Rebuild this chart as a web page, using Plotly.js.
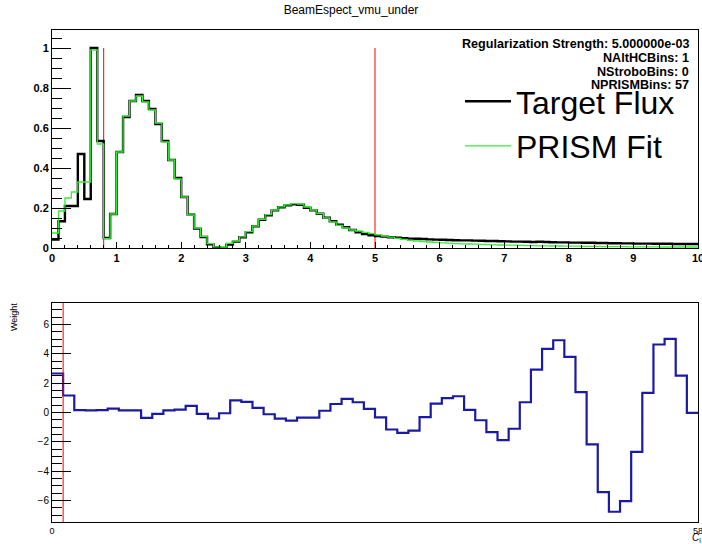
<!DOCTYPE html>
<html>
<head>
<meta charset="utf-8">
<script src="https://cdn.plot.ly/plotly-3.0.1.min.js"></script>
<style>html,body{margin:0;padding:0;background:#fff;}#chart{width:702px;height:544px;}</style>
</head>
<body>
<div id="chart"></div>
<script>
// ---- data ----
var binWidth = 0.1;
var targetFlux = [
0.042,0.134,0.21,0.21,0.47,0.245,1.0,0.535,0.05,0.17,
0.48,0.655,0.735,0.765,0.735,0.695,0.62,0.535,0.44,0.35,
0.255,0.167,0.097,0.055,0.018,0.004,0.0,0.017,0.032,0.054,
0.079,0.109,0.141,0.164,0.188,0.204,0.213,0.218,0.216,0.201,
0.188,0.171,0.151,0.134,0.117,0.104,0.09,0.079,0.07,0.064,
0.06,0.057,0.054,0.051,0.049,0.047,0.046,0.045,0.043,0.042,
0.041,0.040,0.039,0.038,0.038,0.037,0.036,0.035,0.035,0.034,
0.033,0.032,0.032,0.031,0.030,0.031,0.030,0.029,0.028,0.028,
0.027,0.027,0.026,0.026,0.025,0.025,0.024,0.024,0.023,0.023,
0.022,0.022,0.022,0.021,0.021,0.021,0.020,0.020,0.020,0.020];
var prismFit = [
0.075,0.185,0.25,0.28,0.33,0.33,0.99,0.52,0.047,0.17,
0.48,0.66,0.735,0.76,0.73,0.69,0.625,0.53,0.44,0.345,
0.255,0.165,0.1,0.058,0.022,0.006,0.004,0.023,0.035,0.056,
0.082,0.11,0.143,0.167,0.19,0.206,0.216,0.222,0.22,0.205,
0.19,0.172,0.15,0.13,0.113,0.1,0.09,0.085,0.078,0.072,
0.066,0.06,0.054,0.048,0.043,0.038,0.035,0.032,0.030,0.028,
0.026,0.024,0.022,0.021,0.020,0.019,0.018,0.017,0.016,0.015,
0.014,0.014,0.013,0.012,0.012,0.011,0.011,0.010,0.010,0.009,
0.009,0.009,0.008,0.008,0.008,0.007,0.007,0.007,0.007,0.006,
0.006,0.006,0.006,0.006,0.005,0.005,0.005,0.005,0.005,0.005];
var weights = [
2.66,1.16,0.16,0.14,0.16,0.27,0.14,0.14,-0.36,-0.09,
0.14,0.2,0.45,-0.09,-0.41,-0.05,0.83,0.73,0.32,-0.12,
-0.42,-0.56,-0.35,-0.35,0.12,0.58,0.93,0.7,0.25,-0.33,
-1.16,-1.39,-1.23,-0.32,0.61,0.98,1.11,0.18,-0.53,-1.34,
-1.89,-1.11,0.70,2.93,4.34,4.93,3.8,1.39,-2.18,-5.43,
-6.77,-6.04,-2.68,1.34,4.64,5.02,2.52,-0.02];
var energyCuts = [0.8, 5];
var weightCut = [1];
var infoLines = ["Regularization Strength: 5.000000e-03","NAltHCBins: 1","NStroboBins: 0","NPRISMBins: 57"];
var seriesNames = ["Target Flux","PRISM Fit"];

// ---- helpers ----
function stepEdges(vals, w){
  var x=[], y=[];
  for (var i=0;i<vals.length;i++){ x.push(i*w); y.push(vals[i]); }
  x.push(vals.length*w); y.push(vals[vals.length-1]);
  return {x:x,y:y};
}
var tH = stepEdges(targetFlux, binWidth);
var pH = stepEdges(prismFit, binWidth);
var wH = stepEdges(weights, 1);

var yTopMax = 1.09, yBotMin = -7.47, yBotMax = 7.47;

var traces = [];
energyCuts.forEach(function(c){
  traces.push({x:[c,c], y:[0,1], mode:'lines', line:{color:'#ff0000',width:1}, showlegend:false, hoverinfo:'skip', xaxis:'x', yaxis:'y'});
});
traces.push({x:tH.x, y:tH.y, mode:'lines', line:{shape:'hv', color:'#000000', width:2.4}, name:seriesNames[0], xaxis:'x', yaxis:'y'});
traces.push({x:pH.x, y:pH.y, mode:'lines', line:{shape:'hv', color:'#33f033', width:1.3}, name:seriesNames[1], xaxis:'x', yaxis:'y'});
traces.push({x:wH.x, y:wH.y, mode:'lines', line:{shape:'hv', color:'#1a1aa3', width:2.2}, showlegend:false, xaxis:'x2', yaxis:'y2'});
weightCut.forEach(function(c){
  traces.push({x:[c,c], y:[yBotMin,yBotMax], mode:'lines', line:{color:'#ff0000',width:1}, showlegend:false, hoverinfo:'skip', xaxis:'x2', yaxis:'y2'});
});

var F = "Liberation Sans, Arial, Helvetica, sans-serif";
var topPx = 30, botPx = 522;
var H = 544, paperH = botPx - topPx;
function py(p){ return (botPx - p)/paperH; }

var annotations = [];
var infoY = [44, 58, 72, 85];
infoLines.forEach(function(t,i){
  annotations.push({text:t, xref:'paper', yref:'paper', x:(691-52)/646, y:py(infoY[i]), xanchor:'right', yanchor:'middle', showarrow:false, font:{family:F, size:12.6, weight:'bold', color:'#000'}});
});
annotations.push({text:'Weight', xref:'paper', yref:'paper', x:(14-52)/646, y:py(317), textangle:-90, xanchor:'center', yanchor:'middle', showarrow:false, font:{family:F, size:9, color:'#000'}});
annotations.push({text:'<i>C</i><sub>i</sub>', xref:'paper', yref:'paper', x:(696-52)/646, y:py(538), xanchor:'center', yanchor:'middle', showarrow:false, font:{family:F, size:10, color:'#000'}});

var layout = {
  width:702, height:544,
  margin:{l:52, r:4, t:topPx, b:H-botPx, pad:0},
  paper_bgcolor:'#fff', plot_bgcolor:'#fff',
  title:{text:'BeamEspect_vmu_under', x:0.5, xref:'container', y:1-10/544, yref:'container', xanchor:'center', yanchor:'middle', font:{family:F, size:12, color:'#000'}},
  showlegend:true,
  legend:{x:(460-52)/646, y:py(74), xanchor:'left', yanchor:'top', bgcolor:'rgba(0,0,0,0)', borderwidth:0, font:{family:F, size:32, color:'#000'}, itemwidth:46, tracegroupgap:0},
  xaxis:{domain:[0,1], anchor:'y', range:[0,10], tickmode:'linear', tick0:0, dtick:1, ticks:'inside', ticklen:6, tickwidth:1, tickcolor:'#000',
    minor:{dtick:0.2, ticks:'inside', ticklen:3, tickcolor:'#000'}, ticklabeloverflow:'allow',
    showline:true, linecolor:'#000', linewidth:1, mirror:true, showgrid:false, zeroline:false,
    tickfont:{family:F, size:11, weight:'bold', color:'#000'}},
  yaxis:{domain:[py(248),1], anchor:'x', range:[0,yTopMax], tickmode:'linear', tick0:0, dtick:0.2, ticks:'inside', ticklen:19, tickwidth:1, tickcolor:'#000',
    minor:{dtick:0.05, ticks:'inside', ticklen:10, tickcolor:'#000'},
    showline:true, linecolor:'#000', linewidth:1, mirror:true, showgrid:false, zeroline:false,
    tickfont:{family:F, size:11, weight:'bold', color:'#000'}},
  xaxis2:{domain:[0,1], anchor:'y2', range:[0,58], tickmode:'array', tickvals:[0,58], ticktext:['0','58'], ticks:'', ticklabeloverflow:'allow',
    showline:true, linecolor:'#000', linewidth:1, mirror:true, showgrid:false, zeroline:false,
    tickfont:{family:F, size:9, color:'#000'}},
  yaxis2:{domain:[0,py(303)], anchor:'x2', range:[yBotMin,yBotMax], tickmode:'linear', tick0:0, dtick:2, ticks:'inside', ticklen:19, tickwidth:1, tickcolor:'#000',
    minor:{dtick:0.5, ticks:'inside', ticklen:10, tickcolor:'#000'},
    showline:true, linecolor:'#000', linewidth:1, mirror:true, showgrid:false, zeroline:false,
    tickfont:{family:F, size:10, color:'#000'}},
  annotations:annotations
};
Plotly.newPlot('chart', traces, layout, {displayModeBar:false, staticPlot:true});
</script>
</body>
</html>
